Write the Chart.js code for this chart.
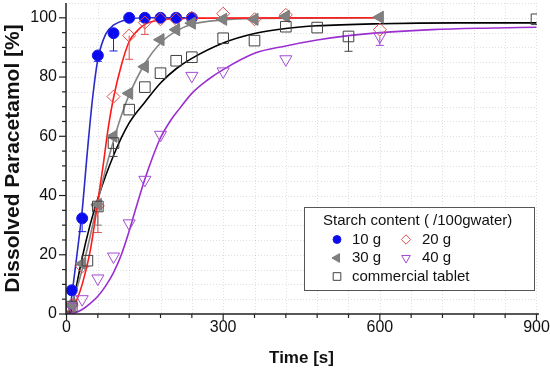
<!DOCTYPE html>
<html><head><meta charset="utf-8">
<script src="https://cdn.jsdelivr.net/npm/chart.js@4/dist/chart.umd.min.js"></script>
<style>html,body{margin:0;padding:0;background:#fff}#wrap{width:550px;height:373px;position:relative}</style>
</head><body><div id="wrap"><canvas id="c" width="550" height="373"></canvas></div>
<script>
const xTicks = [0, 300, 600, 900];
const yTicks = [0, 20, 40, 60, 80, 100];
const seriesNames = ['10 g', '20 g', '30 g', '40 g', 'commercial tablet'];
const legendTitle = 'Starch content ( /100gwater)';

const t10 = [10, 30, 60, 90, 120, 150, 180, 210, 240];
const v10 = [8, 32.3, 87.3, 94.8, 100, 100, 100, 100, 100];
const e10 = [0, 4.5, 2, 6, 0, 0, 0, 0, 0];

const t20 = [10, 30, 60, 90, 120, 150, 180, 210, 240, 300, 360, 420, 600];
const v20 = [3, 16, 36.5, 73.4, 94, 98.4, 99.5, 99.5, 100, 101.4, 99.5, 101, 96];
const e20 = [0, 0, 9, 0, 8, 4, 0, 0, 0, 0, 0, 0, 0];

const t30 = [10, 30, 60, 90, 120, 150, 180, 210, 240, 300, 360, 420, 600];
const v30 = [3, 17, 37, 60, 74.5, 83.5, 92.6, 96, 98.2, 99.5, 99.5, 100.5, 100.2];
const e30 = [0, 0, 7, 0, 0, 0, 0, 0, 0, 0, 0, 0, 0];

const t40 = [10, 30, 60, 90, 120, 150, 180, 240, 300, 420, 600];
const v40 = [2.5, 5, 12, 19.4, 30.6, 45.3, 60.5, 80.4, 81.9, 86, 93.7];
const e40 = [0, 0, 0, 0, 0, 0, 0, 0, 0, 0, 3];

const tCom = [10, 40, 60, 90, 120, 150, 180, 210, 240, 300, 360, 420, 480, 540, 900];
const vCom = [2.5, 18, 36.3, 57.7, 69, 76.6, 81.3, 85.5, 86.7, 93.1, 92.3, 97, 96.7, 93.7, 99.5];
const eCom = [0, 0, 0, 4.5, 0, 0, 0, 0, 0, 0, 0, 0, 0, 5, 0];

// fitted curves
const fit10T = [0, 5, 10, 15, 20, 30, 40, 50, 60, 75, 90, 120, 150, 240];
const fit10V = [0, 0, 6, 13, 20, 35, 55, 73, 86, 94.5, 97.5, 99.5, 100, 100];
const fit20T = [0, 15, 30, 45, 60, 70, 80, 90, 105, 120, 135, 150, 180, 240, 600];
const fit20V = [0, 3, 10, 21, 38, 50, 63, 73, 84, 92, 95.5, 97.8, 99.3, 99.9, 100];
const fit30T = [0, 15, 30, 45, 60, 75, 90, 105, 120, 150, 180, 210, 240, 300, 360, 600];
const fit30V = [0, 6, 15, 26, 38, 49, 58.5, 67, 74, 84.5, 91.5, 95.5, 97.8, 99.3, 99.8, 100];
const fit40T = [0, 15, 30, 45, 60, 75, 90, 105, 120, 135, 150, 165, 180, 200, 215, 240, 270, 300, 360, 420, 480, 540, 600, 700, 800, 900];
const fit40V = [0, 0.3, 1.5, 3.5, 6, 9.5, 14, 20, 28, 37, 45.5, 53, 59.5, 65.5, 69, 74.5, 79, 82.5, 88, 90.5, 92.5, 94, 95, 96, 96.5, 96.8];
const fitComT = [0, 8, 15, 30, 45, 60, 90, 120, 150, 180, 210, 240, 300, 360, 420, 480, 600, 750, 900];
const fitComV = [0, 0.5, 6, 19, 30, 39, 53.5, 64.5, 71.5, 78, 82.8, 86.3, 91.5, 94.7, 96.4, 97.3, 98, 98.3, 98.3];

const zip = (a, b) => a.map((x, i) => ({x: x, y: b[i]}));

const styles = [
  {border: '#1a1ae6', bg: '#0a0aee', line: '#2a2ac8', ps: 'circle', r: 5.5, rot: 0, lw: 1},
  {border: '#e0504f', bg: 'rgba(0,0,0,0)', line: '#ff1a1a', ps: 'rectRot', r: 6.5, rot: 0, lw: 1},
  {border: '#7a7a7a', bg: '#808080', line: '#858585', ps: 'triangle', r: 7, rot: -90, lw: 1},
  {border: '#a44ad4', bg: 'rgba(0,0,0,0)', line: '#9a2fd0', ps: 'triangle', r: 7, rot: 180, lw: 1},
  {border: '#404040', bg: 'rgba(0,0,0,0)', line: '#000000', ps: 'rect', r: 7.5, rot: 0, lw: 1},
];
const pts = [[t10, v10, e10], [t20, v20, e20], [t30, v30, e30], [t40, v40, e40], [tCom, vCom, eCom]];
const fits = [[fit10T, fit10V], [fit20T, fit20V], [fit30T, fit30V], [fit40T, fit40V], [fitComT, fitComV]];

const datasets = [];
fits.forEach((f, i) => datasets.push({
  type: 'line', data: zip(f[0], f[1]), borderColor: styles[i].line, borderWidth: 1.6,
  pointRadius: 0, fill: false, cubicInterpolationMode: 'monotone', order: 10 + i
}));
pts.forEach((p, i) => datasets.push({
  type: 'scatter', data: zip(p[0], p[1]), err: p[2], pointStyle: styles[i].ps, pointRadius: styles[i].r,
  pointRotation: styles[i].rot, borderColor: styles[i].border, backgroundColor: styles[i].bg,
  pointBorderWidth: styles[i].lw, order: 5 - i, showLine: false
}));

const FONT = '"Liberation Sans", Arial, sans-serif';

const frame = {
  id: 'frame',
  beforeDatasetsDraw(chart) {
    const {ctx, chartArea: a, scales: {x, y}} = chart;
    ctx.save();
    ctx.strokeStyle = 'rgba(0,0,0,0.12)';
    ctx.lineWidth = 1;
    ctx.setLineDash([1, 2]);
    for (let t = 60; t <= 900; t += 60) {
      const px = Math.round(x.getPixelForValue(t)) + 0.5;
      ctx.beginPath(); ctx.moveTo(px, a.top); ctx.lineTo(px, a.bottom); ctx.stroke();
    }
    for (let v = 5; v <= 105; v += 5) {
      const py = Math.round(y.getPixelForValue(v)) + 0.5;
      ctx.beginPath(); ctx.moveTo(a.left, py); ctx.lineTo(a.right, py); ctx.stroke();
    }
    ctx.restore();
  },
  afterDatasetsDraw(chart) {
    const {ctx, chartArea: a, scales: {x, y}} = chart;
    ctx.save();
    // error bars
    chart.data.datasets.forEach((ds) => {
      if (!ds.err) return;
      ctx.strokeStyle = ds.borderColor; ctx.lineWidth = 1;
      ds.data.forEach((d, k) => {
        const e = ds.err[k]; if (!e) return;
        const px = x.getPixelForValue(d.x), p0 = y.getPixelForValue(d.y), p1 = y.getPixelForValue(d.y - e);
        ctx.beginPath(); ctx.moveTo(px, p0); ctx.lineTo(px, p1);
        ctx.moveTo(px - 4, p1); ctx.lineTo(px + 4, p1); ctx.stroke();
      });
    });
    // axes
    ctx.strokeStyle = '#222'; ctx.lineWidth = 1.5;
    ctx.beginPath(); ctx.moveTo(a.left, a.top); ctx.lineTo(a.left, a.bottom); ctx.lineTo(a.right + 2, a.bottom); ctx.stroke();
    ctx.lineWidth = 1.2;
    for (let t = 0; t <= 900; t += 60) {
      const px = x.getPixelForValue(t), len = t % 300 === 0 ? 6 : 4;
      ctx.beginPath(); ctx.moveTo(px, a.bottom); ctx.lineTo(px, a.bottom + len); ctx.stroke();
    }
    for (let v = 0; v <= 100; v += 5) {
      const py = y.getPixelForValue(v), len = v % 20 === 0 ? 7 : 4;
      ctx.beginPath(); ctx.moveTo(a.left, py); ctx.lineTo(a.left - len, py); ctx.stroke();
    }
    // legend box
    const bx = 304, by = 207, bw = 230, bh = 83;
    ctx.fillStyle = '#fff'; ctx.fillRect(bx, by, bw, bh);
    ctx.strokeStyle = '#555'; ctx.lineWidth = 1; ctx.strokeRect(bx + 0.5, by + 0.5, bw, bh);
    ctx.fillStyle = '#111'; ctx.font = '15px ' + FONT; ctx.textBaseline = 'middle';
    ctx.fillText(legendTitle, 323, 221);
    const pos = [[337, 352, 239.5], [406, 422, 239.5], [337, 352, 258], [406, 422, 258], [337, 352, 276.5]];
    pos.forEach((p, i) => {
      const s = styles[i];
      ctx.save();
      ctx.strokeStyle = s.border; ctx.fillStyle = s.bg; ctx.lineWidth = 1;
      Chart.helpers.drawPoint(ctx, {pointStyle: s.ps, radius: s.r * 0.72, rotation: s.rot, borderWidth: 1}, p[0], p[2]);
      ctx.restore();
      ctx.fillStyle = '#111';
      ctx.fillText(seriesNames[i], p[1], p[2]);
    });
    ctx.restore();
  }
};

new Chart(document.getElementById('c'), {
  data: {datasets: datasets},
  options: {
    responsive: false, animation: false,
    layout: {autoPadding: false, padding: {left: 0, right: 13, top: 3, bottom: 0}},
    plugins: {legend: {display: false}, tooltip: {enabled: false}},
    scales: {
      x: {
        type: 'linear', min: -1, max: 901,
        afterBuildTicks: s => { s.ticks = xTicks.map(v => ({value: v})); },
        afterFit: s => { s.height = 59; s.paddingLeft = 0; s.paddingRight = 0; },
        grid: {display: false, drawTicks: false}, border: {display: false},
        ticks: {padding: 4, color: '#111', font: {family: FONT, size: 16}, maxRotation: 0, autoSkip: false},
        title: {display: true, text: 'Time [s]', color: '#111', padding: {top: 0, bottom: 4}, font: {family: FONT, size: 17, weight: 'bold'}}
      },
      y: {
        type: 'linear', min: 0, max: 105,
        afterBuildTicks: s => { s.ticks = yTicks.map(v => ({value: v})); },
        afterFit: s => { s.width = 66; s.paddingTop = 0; s.paddingBottom = 0; },
        grid: {display: false, drawTicks: false}, border: {display: false},
        ticks: {padding: 9, color: '#111', font: {family: FONT, size: 16}, autoSkip: false},
        title: {display: true, text: 'Dissolved Paracetamol [%]', color: '#111', padding: {top: 1, bottom: 0}, font: {family: FONT, size: 21, weight: 'bold'}}
      }
    }
  },
  plugins: [frame]
});
</script></body></html>
